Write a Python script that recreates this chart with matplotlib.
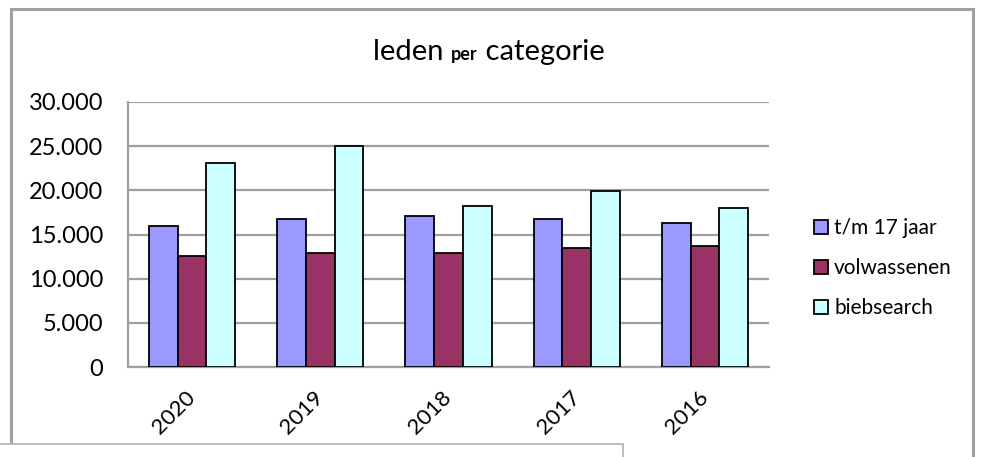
import numpy as np
import matplotlib
matplotlib.use("Agg")
import matplotlib.pyplot as plt
import matplotlib.transforms as mtransforms
from matplotlib.patches import Rectangle
from matplotlib.ticker import FuncFormatter

plt.rcParams['font.family'] = ['Lato', 'DejaVu Sans']

years = ['2020', '2019', '2018', '2017', '2016']
series_names = ['t/m 17 jaar', 'volwassenen', 'biebsearch']
jeugd = [16000, 16750, 17100, 16700, 16300]
volwassenen = [12550, 12950, 12950, 13450, 13750]
biebsearch = [23050, 25000, 18250, 19900, 18000]
colors = ['#9999FF', '#993366', '#CCFFFF']

W, H = 981, 457
fig = plt.figure(figsize=(W / 100, H / 100), dpi=100)
fig.patch.set_facecolor('white')

# outer chart frame and the box overlapping it at the bottom
fig.patches.append(Rectangle((11 / W, -0.2), (973 - 11) / W, 1.2 - 9 / H,
                             transform=fig.transFigure, fill=False,
                             edgecolor='#a0a0a0', linewidth=2.2, zorder=0))
fig.patches.append(Rectangle((-0.05, -0.2), (623 + 49) / W, 0.2 + (H - 444) / H,
                             transform=fig.transFigure, facecolor='white',
                             edgecolor='#b0b0b0', linewidth=1.2, zorder=5))

ax = fig.add_axes([128 / W, (H - 367) / H, (769 - 128) / W, (367 - 102) / H])
x = np.arange(len(years))
bw = 0.224
for i, (vals, name) in enumerate(zip([jeugd, volwassenen, biebsearch], series_names)):
    ax.bar(x + (i - 1) * bw, vals, bw, color=colors[i], edgecolor='black',
           linewidth=1.3, label=name, zorder=3)

ax.set_xlim(-0.5, 4.5)
ax.set_ylim(0, 30000)
ax.set_yticks(range(0, 30001, 5000))
ax.yaxis.set_major_formatter(FuncFormatter(lambda v, p: f'{int(v):,}'.replace(',', '.')))
ax.grid(axis='y', color='#a0a0a0', linewidth=1.6, zorder=0)
for s in ['top', 'right']:
    ax.spines[s].set_visible(False)
for s in ['left', 'bottom']:
    ax.spines[s].set_color('#a0a0a0')
    ax.spines[s].set_linewidth(1.6)
ax.tick_params(axis='both', length=0, labelsize=17)
ax.set_xticks(x)
ax.set_xticklabels(years, rotation=45, ha='right', rotation_mode='anchor', fontsize=16)
ax.tick_params(axis='x', pad=13)
ax.tick_params(axis='y', pad=18)
shift = mtransforms.ScaledTranslation(-7 / 100, -2 / 100, fig.dpi_scale_trans)
for lbl in ax.get_xticklabels():
    lbl.set_transform(lbl.get_transform() + shift)

ax.legend(loc='upper left', bbox_to_anchor=(806 / W, (H - 210) / H),
          bbox_transform=fig.transFigure, frameon=False, fontsize=15,
          handlelength=0.65, handleheight=0.65, handletextpad=0.3,
          labelspacing=0.95, borderaxespad=0)

# title with a small bold "per" in the middle
fig.canvas.draw()
r = fig.canvas.get_renderer()
xpos = 373 / W
ybase = (H - 60) / H
for txt, size, weight in [('leden ', 21, 'normal'), ('per', 13, 'bold'), (' categorie', 21, 'normal')]:
    t = fig.text(xpos, ybase, txt, fontsize=size, fontweight=weight, va='baseline', ha='left')
    xpos += t.get_window_extent(r).width / W

fig.savefig('out.png', dpi=100)
